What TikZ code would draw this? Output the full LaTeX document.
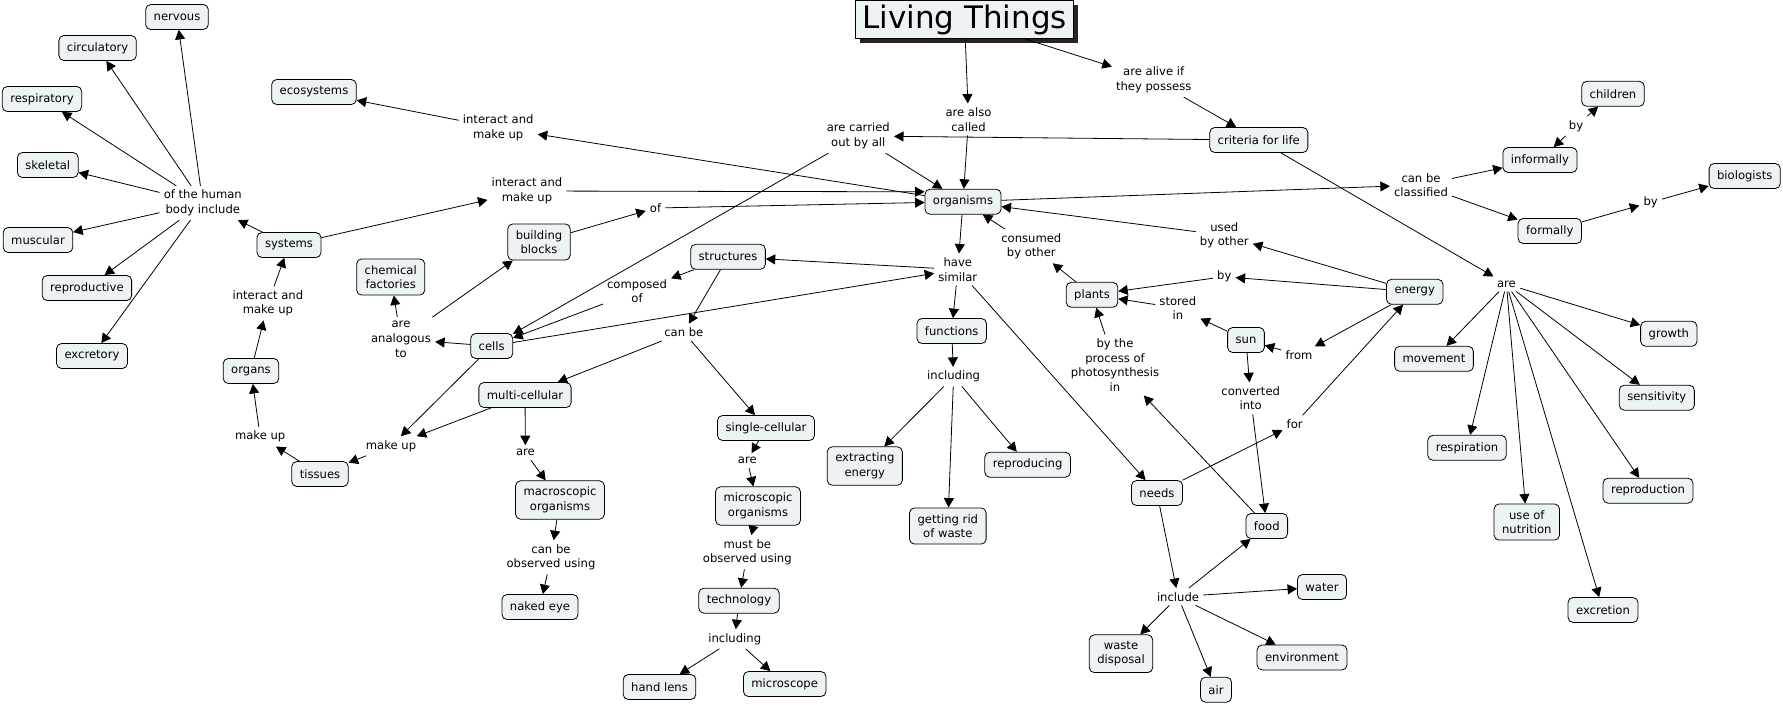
\documentclass[tikz,border=0pt]{standalone}
\usepackage{fontspec}
\setmainfont{DejaVu Sans}
\usetikzlibrary{arrows.meta,shadows}
\definecolor{cfill}{RGB}{237,243,245}
\begin{document}
\begin{tikzpicture}[x=1pt,y=-1pt,
  concept/.style={draw=black, line width=0.8pt, rounded corners=5pt, fill=cfill, align=center,
    inner xsep=8pt, inner ysep=6.3pt, minimum height=25pt, font=\fontsize{11.6}{14.6}\selectfont},
  lbl/.style={align=center, inner sep=4pt, font=\fontsize{11.6}{14.6}\selectfont},
  arr/.style={-{Triangle[length=9.5pt,width=10pt]}, line width=0.8pt},
  titlebox/.style={draw=black, line width=1pt, fill=cfill, minimum width=218pt, minimum height=38pt,
    inner sep=0pt, font=\fontsize{31}{36}\selectfont,
    drop shadow={shadow xshift=4pt,shadow yshift=-4pt,opacity=1,fill=black!85}}]
\useasboundingbox (0,0) rectangle (1783,705);

% concepts
\node[titlebox] (title) at (964.5,19.5) {Living Things};
\node[concept] (nervous) at (177,17) {nervous};
\node[concept] (circulatory) at (97.6,48) {circulatory};
\node[concept] (respiratory) at (42,99) {respiratory};
\node[concept] (skeletal) at (47.8,165) {skeletal};
\node[concept] (muscular) at (38,240) {muscular};
\node[concept] (reproductive) at (86.9,288) {reproductive};
\node[concept] (excretory) at (92,356) {excretory};
\node[concept] (ecosystems) at (314,92) {ecosystems};
\node[concept] (systems) at (289,245) {systems};
\node[concept] (blocks) at (539,242) {building\\blocks};
\node[concept] (chemical) at (390.7,277) {chemical\\factories};
\node[concept] (cells) at (491.7,346) {cells};
\node[concept] (organs) at (251,371) {organs};
\node[concept] (tissues) at (320,474) {tissues};
\node[concept] (multi) at (525,395) {multi-cellular};
\node[concept] (macro) at (560,500) {macroscopic\\organisms};
\node[concept] (naked) at (540,607) {naked eye};
\node[concept] (single) at (766,428) {single-cellular};
\node[concept] (micro) at (758,506) {microscopic\\organisms};
\node[concept] (technology) at (739,600.7) {technology};
\node[concept] (handlens) at (659.5,687) {hand lens};
\node[concept] (microscope) at (784.7,684) {microscope};
\node[concept] (extracting) at (864.8,466) {extracting\\energy};
\node[concept] (ridwaste) at (947.8,526) {getting rid\\of waste};
\node[concept] (reproducing) at (1027.6,464.7) {reproducing};
\node[concept] (needs) at (1157,493) {needs};
\node[concept] (disposal) at (1121,653.7) {waste\\disposal};
\node[concept] (food) at (1266.8,526) {food};
\node[concept] (water) at (1322,587) {water};
\node[concept] (environment) at (1302,657.5) {environment};
\node[concept] (air) at (1216,689.7) {air};
\node[concept] (movement) at (1434,358.8) {movement};
\node[concept] (respiration) at (1467,447.8) {respiration};
\node[concept] (nutrition) at (1526.8,522) {use of\\nutrition};
\node[concept] (sensitivity) at (1656.8,397.7) {sensitivity};
\node[concept] (reproduction) at (1648,490.7) {reproduction};
\node[concept] (excretion) at (1603,610) {excretion};
\node[concept] (criteria) at (1258.8,140) {criteria for life};
\node[concept] (children) at (1613,93.8) {children};
\node[concept] (informally) at (1540,160) {informally};
\node[concept] (biologists) at (1744.7,176) {biologists};
\node[concept] (formally) at (1549.8,231) {formally};
\node[concept] (growth) at (1668.8,333.8) {growth};
\node[concept] (energy) at (1414.7,291.8) {energy};
\node[concept] (sun) at (1246,340) {sun};
\node[concept] (organisms) at (963,201.7) {organisms};
\node[concept] (structures) at (728,256.8) {structures};
\node[concept] (plants) at (1092,294.8) {plants};
\node[concept] (functions) at (951.7,331) {functions};

% linking phrases
\node[lbl] (lAlso) at (968.5,119.5) {are also\\called};
\node[lbl] (lAlive) at (1153.7,80) {are alive if\\they possess};
\node[lbl] (lCarried) at (858.3,136) {are carried\\out by all};
\node[lbl] (lEco) at (498.2,128) {interact and\\make up};
\node[lbl] (lSys) at (527,191) {interact and\\make up};
\node[lbl] (lOf) at (655.5,208) {of};
\node[lbl] (lOrg) at (267.9,303.3) {interact and\\make up};
\node[lbl] (lHuman) at (202.8,203) {of the human\\body include};
\node[lbl] (lMakeOrg) at (260.2,436.7) {make up};
\node[lbl] (lMakeTis) at (391,446) {make up};
\node[lbl] (lAnalog) at (401,339.3) {are\\analogous\\to};
\node[lbl] (lComposed) at (637,291.2) {composed\\of};
\node[lbl] (lHave) at (957.8,269.5) {have\\similar};
\node[lbl] (lCanBe) at (683.8,332.3) {can be};
\node[lbl] (lAreMulti) at (525.4,452.7) {are};
\node[lbl] (lAreSingle) at (747.3,460.7) {are};
\node[lbl] (lMacroObs) at (551,557.3) {can be\\observed using};
\node[lbl] (lMicroObs) at (747.3,552.3) {must be\\observed using};
\node[lbl] (lInclTech) at (734.7,639) {including};
\node[lbl] (lInclFunc) at (953.6,376.7) {including};
\node[lbl] (lClassified) at (1421,185) {can be\\classified};
\node[lbl] (lByChildren) at (1576,126) {by};
\node[lbl] (lByBio) at (1650.6,202.3) {by};
\node[lbl] (lAreCrit) at (1506.4,284) {are};
\node[lbl] (lUsed) at (1224.3,235.3) {used\\by other};
\node[lbl] (lConsumed) at (1031.3,246.2) {consumed\\by other};
\node[lbl] (lByEnergy) at (1224.3,276.7) {by};
\node[lbl] (lStored) at (1177.8,308) {stored\\in};
\node[lbl] (lFrom) at (1299,355) {from};
\node[lbl] (lConverted) at (1250.7,398.3) {converted\\into};
\node[lbl] (lFor) at (1294.7,424) {for};
\node[lbl] (lPhoto) at (1115,365) {by the\\process of\\photosynthesis\\in};
\node[lbl] (lInclude) at (1178,596.7) {include};

% connectors
\draw[arr] (title) -- (lAlso);
\draw[arr] (lAlso) -- (organisms);
\draw[arr] (title) -- (lAlive);
\draw[arr] (lAlive) -- (criteria);
\draw[arr] (criteria) -- (lCarried);
\draw[arr] (lCarried) -- (organisms);
\draw[arr] (lCarried) -- (cells);
\draw[arr] (organisms) -- (lEco);
\draw[arr] (lEco) -- (ecosystems);
\draw[arr] (systems) -- (lSys);
\draw[arr] (lSys) -- ([yshift=-3pt]organisms.north west);
\draw[arr] (blocks) -- (lOf);
\draw[arr] (lOf) -- (organisms);
\draw[arr] (organs) -- (lOrg);
\draw[arr] (lOrg) -- (systems);
\draw[arr] (systems) -- (lHuman);
\foreach \t in {nervous,circulatory,respiratory,skeletal,muscular,reproductive,excretory}
  \draw[arr] (lHuman) -- (\t);
\draw[arr] (tissues) -- (lMakeOrg);
\draw[arr] (lMakeOrg) -- (organs);
\draw[arr] (cells) -- (lMakeTis);
\draw[arr] (multi) -- (lMakeTis);
\draw[arr] (lMakeTis) -- (tissues);
\draw[arr] (cells) -- (lAnalog);
\draw[arr] (lAnalog) -- (chemical);
\draw[arr] (lAnalog) -- (blocks);
\draw[arr] (structures) -- (lComposed);
\draw[arr] (lComposed) -- (cells);
\draw[arr] (cells) -- (lHave);
\draw[arr] (organisms) -- (lHave);
\draw[arr] (lHave) -- (structures);
\draw[arr] (lHave) -- (functions);
\draw[arr] (lHave) -- (needs);
\draw[arr] (structures) -- (lCanBe);
\draw[arr] (lCanBe) -- (multi);
\draw[arr] (lCanBe) -- (single);
\draw[arr] (multi) -- (lAreMulti);
\draw[arr] (lAreMulti) -- (macro);
\draw[arr] (single) -- (lAreSingle);
\draw[arr] (lAreSingle) -- (micro);
\draw[arr] (micro) -- (lMicroObs);
\draw[arr] (lMicroObs) -- (technology);
\draw[arr] (technology) -- (lInclTech);
\draw[arr] (lInclTech) -- (handlens);
\draw[arr] (lInclTech) -- (microscope);
\draw[arr] (macro) -- (lMacroObs);
\draw[arr] (lMacroObs) -- (naked);
\draw[arr] (functions) -- (lInclFunc);
\foreach \t in {extracting,ridwaste,reproducing}
  \draw[arr] (lInclFunc) -- (\t);
\draw[arr] (organisms) -- (lClassified);
\draw[arr] (lClassified) -- (informally);
\draw[arr] (lClassified) -- (formally);
\draw[arr] (lByChildren) -- (informally);
\draw[arr] (lByChildren) -- (children);
\draw[arr] (formally) -- (lByBio);
\draw[arr] (lByBio) -- (biologists);
\draw[arr] (criteria) -- (lAreCrit);
\foreach \t in {movement,growth,respiration,nutrition,sensitivity,reproduction,excretion}
  \draw[arr] (lAreCrit) -- (\t);
\draw[arr] (energy) -- (lUsed);
\draw[arr] (lUsed) -- (organisms);
\draw[arr] (plants) -- (lConsumed);
\draw[arr] (lConsumed) -- (organisms);
\draw[arr] (energy) -- (lByEnergy);
\draw[arr] (lByEnergy) -- (plants);
\draw[arr] (sun) -- (lStored);
\draw[arr] (lStored) -- (plants);
\draw[arr] (energy) -- (lFrom);
\draw[arr] (lFrom) -- (sun);
\draw[arr] (needs) -- (lFor);
\draw[arr] (lFor) -- (energy);
\draw[arr] (sun) -- (lConverted);
\draw[arr] (lConverted) -- (food);
\draw[arr] (food) -- (lPhoto);
\draw[arr] (lPhoto) -- (plants);
\draw[arr] (needs) -- (lInclude);
\foreach \t in {food,water,environment,air,disposal}
  \draw[arr] (lInclude) -- (\t);
\end{tikzpicture}
\end{document}
